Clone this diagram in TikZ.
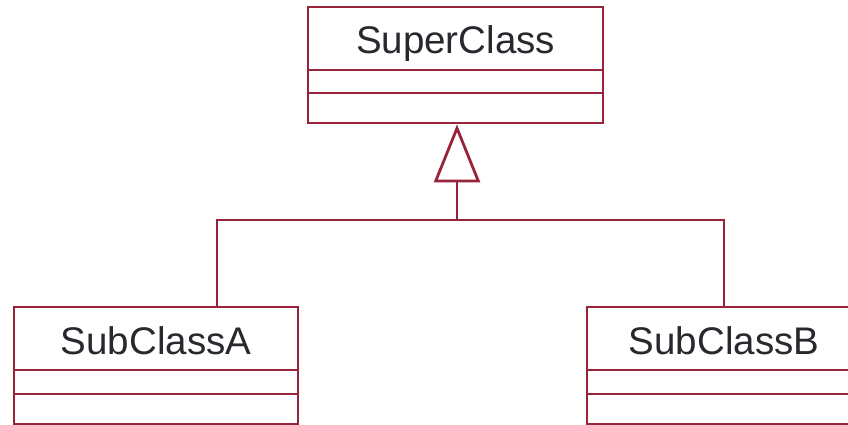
\documentclass[tikz,border=0pt]{standalone}
\usepackage{fontspec}
\setmainfont{Liberation Sans}
\usetikzlibrary{arrows.meta}
\definecolor{umlline}{RGB}{152,36,60}
\definecolor{umltext}{RGB}{40,40,46}
\begin{document}
\begin{tikzpicture}[x=1pt,y=-1pt,
  classbox/.style={draw=umlline, line width=2.8pt, fill=white, rectangle, inner sep=0pt},
  classname/.style={text=umltext, font=\fontsize{38.5}{40}\selectfont, inner sep=0pt, anchor=base},
  divider/.style={draw=umlline, line width=2.8pt},
  link/.style={draw=umlline, line width=2.8pt},
  inherit/.style={link, -{Triangle[open, length=58pt, width=46pt, line width=2.8pt]}}]
  \fill[white] (0,0) rectangle (848,424);
  \clip (0,0) rectangle (848,424);
  \useasboundingbox (0,0) rectangle (848,424);

  % super class: name compartment, attributes, operations
  \node[classbox, minimum width=295pt, minimum height=116pt] (super) at (455.5,65) {};
  \node[classname] (supername) at (455.5,53) {SuperClass};
  \draw[divider] (super.west |- 0,70) -- (super.east |- 0,70);
  \draw[divider] (super.west |- 0,93) -- (super.east |- 0,93);

  % sub class A (lower edge sits on the border)
  \node[classbox, minimum width=284pt, minimum height=117pt] (subA) at (156,365.5) {};
  \node[classname] (subAname) at (156,354) {SubClassA};
  \draw[divider] (subA.west |- 0,370) -- (subA.east |- 0,370);
  \draw[divider] (subA.west |- 0,394) -- (subA.east |- 0,394);

  % sub class B (runs past the right edge)
  \node[classbox, minimum width=274pt, minimum height=117pt] (subB) at (724,365.5) {};
  \node[classname] (subBname) at (724,354) {SubClassB};
  \draw[divider] (subB.west |- 0,370) -- (subB.east |- 0,370);
  \draw[divider] (subB.west |- 0,394) -- (subB.east |- 0,394);

  % generalisation tree
  \coordinate (joint) at (457,220);
  \coordinate (jointA) at (217,220);
  \coordinate (jointB) at (724,220);
  \draw[link] (jointA |- subA.north) -- (jointA) -- (jointB) -- (jointB |- subB.north);
  \draw[inherit] (joint) -- (joint |- super.south);
\end{tikzpicture}
\end{document}
